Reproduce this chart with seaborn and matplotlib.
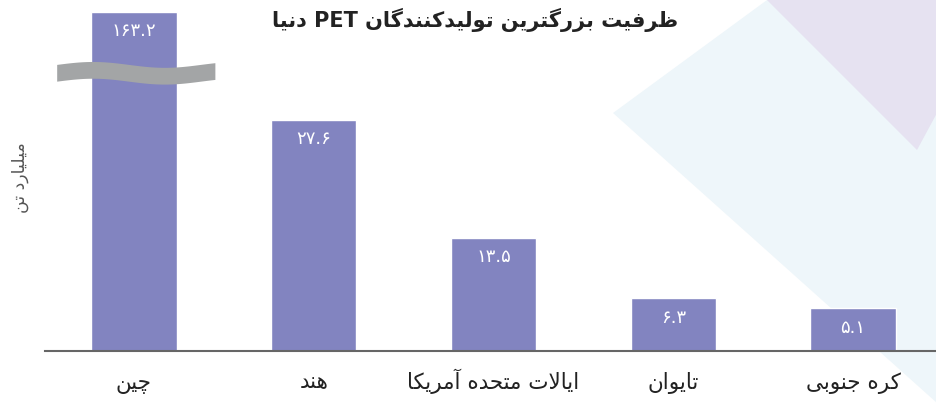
import re
import numpy as np
import pandas as pd
import matplotlib
matplotlib.use("Agg")
from matplotlib import pyplot as plt
from matplotlib.patches import Polygon
import seaborn as sns

title = "ظرفیت بزرگترین تولیدکنندگان PET دنیا"
ylabel = "میلیارد تن"
countries = ["چین", "هند", "ایالات متحده آمریکا", "تایوان", "کره جنوبی"]
capacity = [163.2, 27.6, 13.5, 6.3, 5.1]
break_cap = 40.5  # tallest bar is cut here (axis break)

# isolated presentation form, dual-joining?
FORMS = {
    "ا": (0xFE8D, False), "آ": (0xFE81, False), "ب": (0xFE8F, True),
    "ت": (0xFE95, True), "ج": (0xFE9D, True), "ح": (0xFEA1, True),
    "د": (0xFEA9, False), "ر": (0xFEAD, False), "ز": (0xFEAF, False),
    "ظ": (0xFEC5, True), "ف": (0xFED1, True), "ل": (0xFEDD, True),
    "م": (0xFEE1, True), "ن": (0xFEE5, True), "ه": (0xFEE9, True),
    "و": (0xFEED, False), "ی": (0xFBFC, True), "ک": (0xFB8E, True),
    "گ": (0xFB92, True), "چ": (0xFB7A, True),
}
LAM_ALEF = {"ا": 0xFEFB, "آ": 0xFEF5}


def shape(word):
    out = []
    prev_joins = False
    i = 0
    while i < len(word):
        ch = word[i]
        if ch not in FORMS:
            out.append(ch)
            prev_joins = False
            i += 1
            continue
        nxt = word[i + 1] if i + 1 < len(word) else ""
        if ch == "ل" and nxt in LAM_ALEF:
            out.append(chr(LAM_ALEF[nxt] + (1 if prev_joins else 0)))
            prev_joins = False
            i += 2
            continue
        base, dual = FORMS[ch]
        joins_next = dual and nxt in FORMS
        if dual:
            form = [0, 2, 1, 3][prev_joins * 2 + joins_next]
        else:
            form = 1 if prev_joins else 0
        out.append(chr(base + form))
        prev_joins = dual
        i += 1
    return "".join(out)


def rtl(text):
    runs = re.findall(r"[A-Za-z0-9۰-۹.]+|[^A-Za-z0-9۰-۹.]+", text)
    vis = []
    for r in reversed(runs):
        if re.match(r"[A-Za-z0-9۰-۹.]", r):
            vis.append(r)
        else:
            vis.append(shape(r)[::-1])
    return "".join(vis)


def fa_num(v):
    return str(v).translate(str.maketrans("0123456789", "۰۱۲۳۴۵۶۷۸۹"))


df = pd.DataFrame({
    "country": [rtl(c) for c in countries],
    "shown": [min(v, break_cap) for v in capacity],
})

sns.set_theme(style="white")
plt.rcParams["font.family"] = ["DejaVu Sans"]

W, H = 937, 403
fig = plt.figure(figsize=(W / 100, H / 100), dpi=100)


def px(pts):
    return [(x / W, 1 - y / H) for x, y in pts]


fig.patches.append(Polygon(px([(613, 113), (767, 0), (937, 0), (937, 403)]),
                           closed=True, transform=fig.transFigure,
                           facecolor="#eef6fa", edgecolor="none", zorder=-2))
fig.patches.append(Polygon(px([(767, 0), (937, 0), (937, 113), (917, 150)]),
                           closed=True, transform=fig.transFigure,
                           facecolor="#e6e2f1", edgecolor="none", zorder=-1))

ax = fig.add_axes([45 / W, 52 / H, 1 - 45 / W, 351 / H])
ax.patch.set_visible(False)

sns.barplot(data=df, x="country", y="shown", color="#8284c0", saturation=1,
            width=0.475, ax=ax)

for i, v in enumerate(capacity):
    ax.annotate(fa_num(v), (i, min(v, break_cap)), xytext=(0, -14),
                textcoords="offset points", ha="center", va="center",
                color="white", fontsize=13)

# wavy break band across the tallest bar
xs = np.linspace(-0.43, 0.45, 200)
mid = break_cap - 7.3 + 0.35 * np.sin((xs + 0.43) / 0.88 * 2.2 * np.pi)
ax.fill_between(xs, mid - 1.0, mid + 1.0, color="#a3a5a6", lw=0, zorder=5)

ax.set_xlim(-0.495, 4.467)
ax.set_ylim(0, 351 / 8.38)
ax.set_xlabel("")
ax.set_ylabel("")
ax.set_yticks([])
for s in ["left", "right", "top"]:
    ax.spines[s].set_visible(False)
ax.spines["bottom"].set_color("#666666")
ax.spines["bottom"].set_linewidth(1.5)
ax.tick_params(axis="x", length=0, pad=27, labelsize=15.5, labelcolor="#222222")
for lbl in ax.get_xticklabels():
    lbl.set_verticalalignment("baseline")

fig.text(475 / W, 1 - 20 / H, rtl(title), ha="center", va="center",
         fontsize=15, fontweight="bold", color="#222222")
fig.text(20 / W, 1 - 178 / H, rtl(ylabel), ha="center", va="center",
         rotation=90, fontsize=12.5, color="#555555")

fig.savefig("out.png", dpi=100)
